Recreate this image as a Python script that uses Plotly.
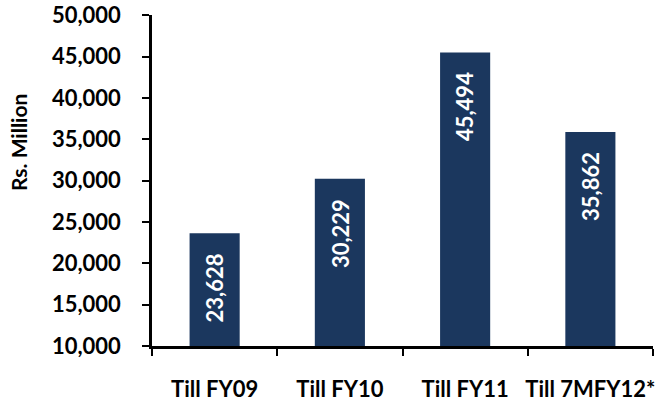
import plotly.graph_objects as go

# Cumulative value by period (Rs. Million)
periods = ["Till FY09", "Till FY10", "Till FY11", "Till 7MFY12*"]
values = [23628, 30229, 45494, 35862]
y_ticks = [10000, 15000, 20000, 25000, 30000, 35000, 40000, 45000, 50000]

BAR_COLOR = "#1B375E"
FONT = "Lato"

# Plot-area geometry in pixels
W, H = 660, 405
ML, MR, MT, MB = 152, 7, 15, 59
PW, PH = W - ML - MR, H - MT - MB

fig = go.Figure(
    go.Bar(
        x=periods,
        y=values,
        width=0.4,
        marker=dict(color=BAR_COLOR, line=dict(width=0)),
        hoverinfo="skip",
    )
)

# Value labels, rotated, sitting just inside the top of each bar
for p, v in zip(periods, values):
    fig.add_annotation(
        x=p, y=v, xref="x", yref="y",
        text=f"{v:,}",
        textangle=-90,
        showarrow=False,
        xanchor="center", yanchor="top",
        yshift=-18,
        font=dict(family=FONT, size=22, color="white", weight="bold"),
    )

# Axis title
fig.add_annotation(
    x=(18 - ML) / PW, y=(H - MB - 143) / PH,
    xref="paper", yref="paper",
    xanchor="center", yanchor="middle",
    text="Rs. Million", textangle=-90, showarrow=False,
    font=dict(family=FONT, size=21, color="black", weight="bold"),
)

fig.update_layout(
    width=W, height=H,
    margin=dict(l=ML, r=MR, t=MT, b=MB, autoexpand=False),
    paper_bgcolor="white", plot_bgcolor="white",
    showlegend=False,
    font=dict(family=FONT, color="black"),
)

fig.update_xaxes(
    type="category",
    tickson="boundaries",
    ticks="outside", ticklen=7, tickwidth=1.5, tickcolor="black",
    showline=True, linecolor="black", linewidth=2.5,
    showgrid=False, automargin=False, tickangle=0,
    tickfont=dict(family=FONT, size=22, color="black", weight="bold"),
    ticklabelstandoff=22,
)
fig.update_yaxes(
    range=[10000, 50020],
    tickvals=y_ticks,
    ticktext=[f"{t:,}" for t in y_ticks],
    ticks="outside", ticklen=7, tickwidth=1.5, tickcolor="black",
    showline=True, linecolor="black", linewidth=2.5,
    showgrid=False, zeroline=False, automargin=False,
    tickfont=dict(family=FONT, size=22, color="black", weight="bold"),
    ticklabelstandoff=17,
)

fig.write_html("out.html")
